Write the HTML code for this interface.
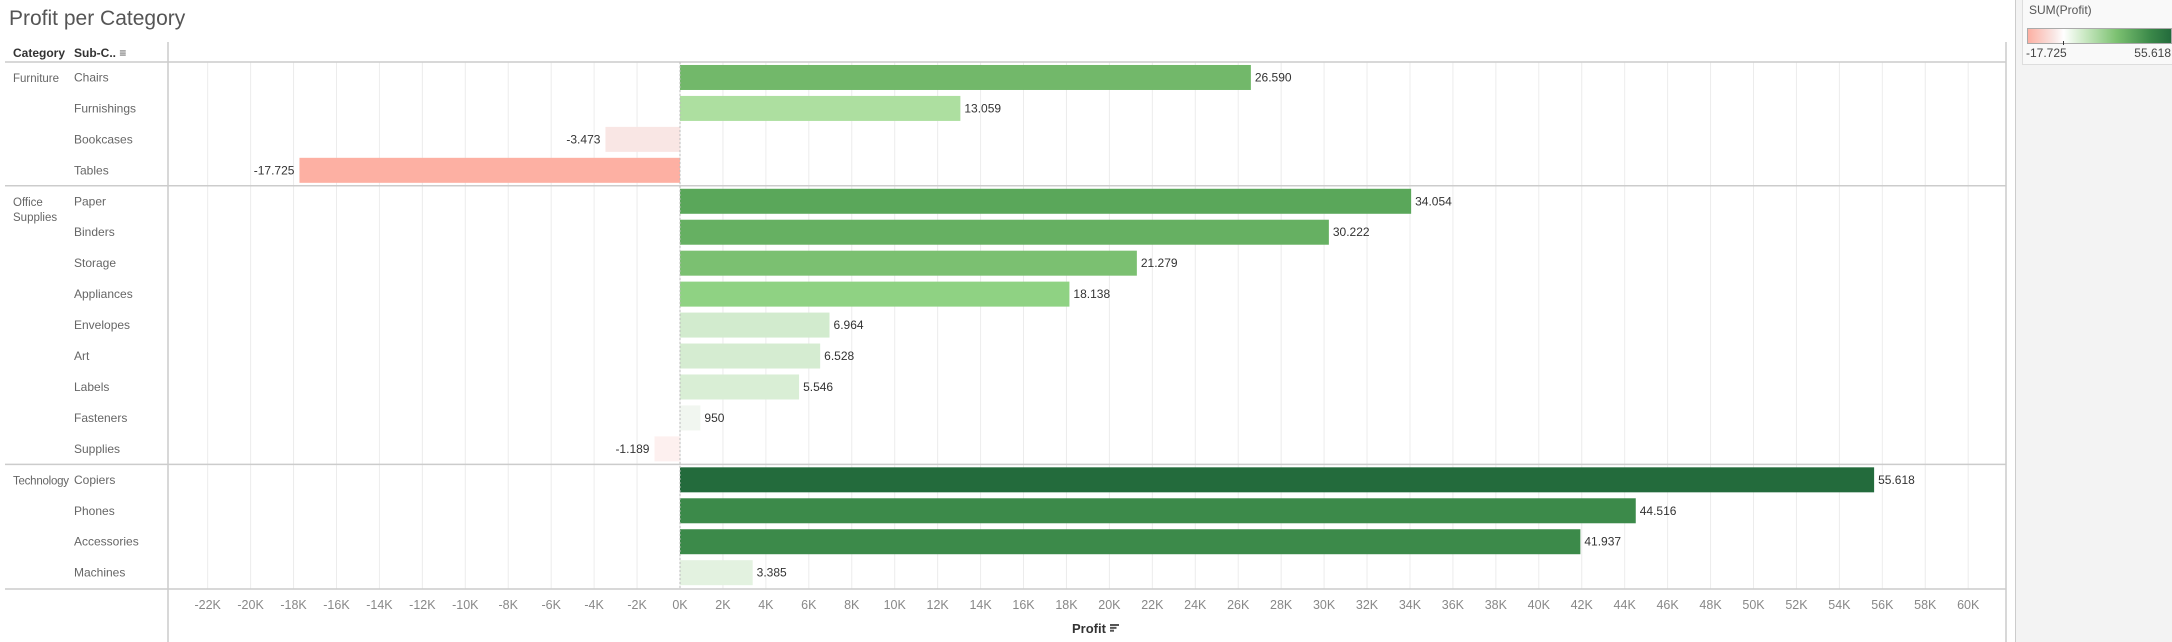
<!DOCTYPE html>
<html><head><meta charset="utf-8"><style>
body{margin:0;width:2172px;height:642px;background:#fff;font-family:"Liberation Sans",sans-serif;overflow:hidden;position:relative}
.t{position:absolute;white-space:nowrap}
</style></head><body>
<div class="t" style="left:9px;top:7px;font-size:21px;color:#555">Profit per Category</div>
<div class="t" style="left:13px;top:46px;font-size:12px;font-weight:bold;color:#333">Category</div>
<div class="t" style="left:74px;top:46px;font-size:12px;font-weight:bold;color:#333">Sub-C.. <span style="font-weight:bold;color:#555">&#8801;</span></div>
<div style="position:absolute;left:2015px;top:0;width:157px;height:642px;background:#f3f3f3;border-left:1px solid #ccc"></div>
<div style="position:absolute;left:2022px;top:0;width:150px;height:64px;background:#f9f9f9;border:1px solid #ddd;border-top:none">
 <div class="t" style="left:6px;top:3px;font-size:12px;color:#555">SUM(Profit)</div>
 <div style="position:absolute;left:4px;top:28px;width:143px;height:14px;border:1px solid #aaa;background:linear-gradient(to right,#fdb0a3 0%,#f9e6e4 18%,#fff 25%,#c9e8c2 40%,#7cc171 62%,#3c8a4a 85%,#236b3c 100%)"></div>
 <div style="position:absolute;left:40px;top:41px;width:1px;height:4px;background:#333"></div>
 <div class="t" style="left:3px;top:46px;font-size:12px;color:#444">-17.725</div>
 <div class="t" style="right:2px;top:46px;font-size:12px;color:#444">55.618</div>
</div>
<svg id="c" width="2172" height="642" style="position:absolute;left:0;top:0"></svg>
<script>
const categories=["Furniture","Office Supplies","Technology"];
const categoryCounts=[4,9,4];
const subCategories=["Chairs","Furnishings","Bookcases","Tables","Paper","Binders","Storage","Appliances","Envelopes","Art","Labels","Fasteners","Supplies","Copiers","Phones","Accessories","Machines"];
const profits=[26590,13059,-3473,-17725,34054,30222,21279,18138,6964,6528,5546,950,-1189,55618,44516,41937,3385];
const valueLabels=["26.590","13.059","-3.473","-17.725","34.054","30.222","21.279","18.138","6.964","6.528","5.546","950","-1.189","55.618","44.516","41.937","3.385"];
const ticks=[-22,-20,-18,-16,-14,-12,-10,-8,-6,-4,-2,0,2,4,6,8,10,12,14,16,18,20,22,24,26,28,30,32,34,36,38,40,42,44,46,48,50,52,54,56,58,60];
const NS="http://www.w3.org/2000/svg";
const svg=document.getElementById('c');
const X0=680,PX=21.47/1000,TOP=62,RH=30.95,L=168,R=2006,AXB=589;
const x=v=>X0+v*PX;
function mk(t,a){const e=document.createElementNS(NS,t);for(const k in a)e.setAttribute(k,a[k]);svg.appendChild(e);return e;}
function hex(h){return [1,3,5].map(i=>parseInt(h.substr(i,2),16));}
function lerp(stops,f){for(let i=1;i<stops.length;i++){if(f<=stops[i][0]){const a=stops[i-1],b=stops[i];const t=(f-a[0])/(b[0]-a[0]||1);const ca=hex(a[1]),cb=hex(b[1]);return 'rgb('+ca.map((c,j)=>Math.round(c+(cb[j]-c)*t)).join(',')+')';}}return stops[stops.length-1][1];}
const gStops=[[0,"#f7f7f7"],[0.06,"#e3f2e0"],[0.12,"#d4ecd0"],[0.235,"#addfa0"],[0.33,"#8ed182"],[0.38,"#7bc071"],[0.48,"#72b86a"],[0.61,"#5aa75a"],[0.75,"#3c8a4a"],[0.8,"#3c8a4a"],[1,"#236b3c"]];
const rStops=[[0,"#f7f7f7"],[0.07,"#fdf0ef"],[0.2,"#f9e6e4"],[1,"#fdb0a3"]];
const maxP=Math.max(...profits),minP=Math.min(...profits);
function color(v){return v>=0?lerp(gStops,v/maxP):lerp(rStops,v/minP);}
ticks.forEach(t=>{const gx=x(t*1000);
 let e=mk('line',{x1:gx,x2:gx,y1:TOP,y2:AXB,stroke:'#ececec','stroke-width':1});
 
 e=mk('text',{x:gx,y:609,'text-anchor':'middle','font-size':12.5,fill:'#888','font-family':'Liberation Sans'});e.textContent=t+'K';
 
});
let e=mk('line',{x1:5,x2:R,y1:TOP,y2:TOP,stroke:'#ccc','stroke-width':1.5});
e=mk('line',{x1:L,x2:L,y1:42,y2:642,stroke:'#ccc','stroke-width':1.5});
e=mk('line',{x1:R,x2:R,y1:42,y2:642,stroke:'#ccc','stroke-width':1.5});
e=mk('line',{x1:5,x2:R,y1:AXB,y2:AXB,stroke:'#ccc','stroke-width':1.5});
let idx=0;
categories.forEach((c,ci)=>{const y0=TOP+idx*RH;
 const words=c.split(' ');
 words.forEach((w,wi)=>{const t=mk('text',{x:13,y:y0+20+wi*15,'font-size':11.5,fill:'#666','font-family':'Liberation Sans'});t.textContent=w;
  if(w.length>9)t.setAttribute('textLength',56);
  });
 idx+=categoryCounts[ci];
 if(ci<categories.length-1){const yy=TOP+idx*RH;const l=mk('line',{x1:5,x2:R,y1:yy,y2:yy,stroke:'#ccc','stroke-width':1.5});
  }
});
subCategories.forEach((s,i)=>{const cy=TOP+(i+0.5)*RH;const v=profits[i];
 let t=mk('text',{x:74,y:cy+4,'font-size':12,fill:'#666','font-family':'Liberation Sans'});t.textContent=s;
 
 const bx=Math.min(x(0),x(v)),bw=Math.abs(x(v)-x(0));
 const r=mk('rect',{x:bx,y:cy-12.5,width:bw,height:25,fill:color(v)});
 
 t=mk('text',{x:v>=0?x(v)+4:x(v)-5,y:cy+4,'text-anchor':v>=0?'start':'end','font-size':12,fill:'#333','font-family':'Liberation Sans'});t.textContent=valueLabels[i];
 
});
e=mk('line',{x1:X0,x2:X0,y1:TOP,y2:AXB,stroke:'#bbb','stroke-width':1,'stroke-dasharray':'2,2'});
e=mk('text',{x:1072,y:633,'font-size':13,fill:'#333','font-family':'Liberation Sans','font-weight':'bold'});e.textContent='Profit';

[0,4,8].forEach((d,k)=>{const r=mk('rect',{x:1110,y:624+d/1.4,width:9-k*2.5,height:2,fill:'#555'});});
</script>
</body></html>
